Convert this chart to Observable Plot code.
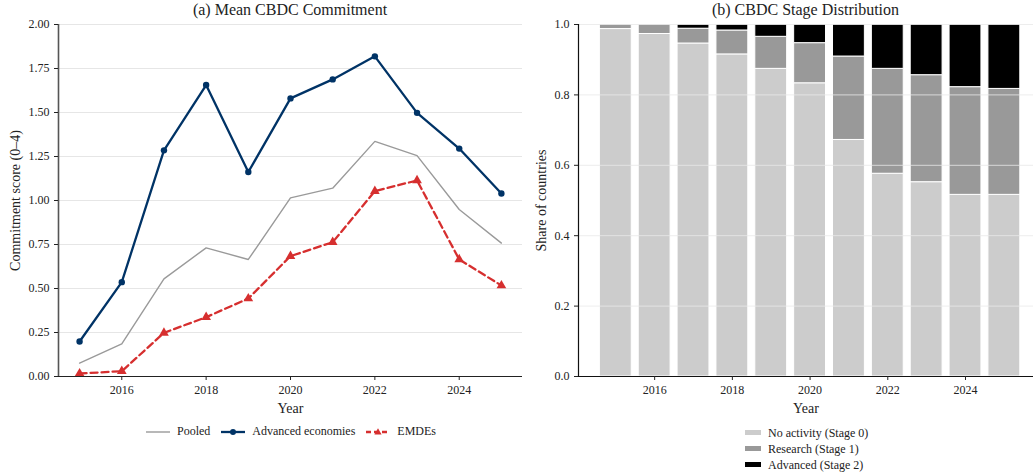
<!DOCTYPE html>
<html>
<head>
<meta charset="utf-8">
<script src="https://cdn.jsdelivr.net/npm/d3@7"></script>
<script src="https://cdn.jsdelivr.net/npm/@observablehq/plot@0.6"></script>
<style>
  html, body { margin: 0; padding: 0; background: #fff; }
  #root { position: relative; width: 1033px; height: 476px; overflow: hidden; font-family: "Liberation Serif", serif; color: #222; }
  .panel { position: absolute; top: 0; }
  .panel svg { max-width: none !important; }
  svg text { font-family: "Liberation Serif", serif; }
  g[aria-label="x-axis label"], g[aria-label="y-axis label"] { font-size: 14px; }
  g[aria-label="x-axis tick label"], g[aria-label="y-axis tick label"] { font-size: 12px; }
  .title { position: absolute; top: 1px; font-size: 16px; text-align: center; white-space: nowrap; }
  .legend { position: absolute; font-size: 12px; white-space: nowrap; }
  .legend .item { display: inline-flex; align-items: center; margin-right: 10px; }
  .legend svg { margin-right: 6px; }
  .vlegend .item { display: flex; align-items: center; height: 16px; }
</style>
</head>
<body>
<div id="root"></div>
<script>
// ---------- data ----------
const years = [2015, 2016, 2017, 2018, 2019, 2020, 2021, 2022, 2023, 2024, 2025];
const pooled   = [0.076, 0.186, 0.555, 0.731, 0.665, 1.015, 1.070, 1.336, 1.255, 0.949, 0.758];
const advanced = [0.199, 0.536, 1.285, 1.656, 1.162, 1.580, 1.688, 1.819, 1.498, 1.295, 1.040];
const emdes    = [0.017, 0.030, 0.248, 0.337, 0.443, 0.684, 0.763, 1.053, 1.114, 0.665, 0.517];

const stage0 = [0.987, 0.973, 0.946, 0.915, 0.874, 0.833, 0.672, 0.576, 0.552, 0.516, 0.516];
const stage1 = [0.013, 0.027, 0.042, 0.068, 0.091, 0.114, 0.237, 0.298, 0.304, 0.306, 0.301];
const stage2 = [0.000, 0.000, 0.012, 0.017, 0.035, 0.053, 0.091, 0.126, 0.144, 0.178, 0.183];

const seriesNames = ["Pooled", "Advanced economies", "EMDEs"];
const stageNames = ["No activity (Stage 0)", "Research (Stage 1)", "Advanced (Stage 2)"];
const yTicksA = [0, 0.25, 0.5, 0.75, 1.0, 1.25, 1.5, 1.75, 2.0];
const yTicksB = [0, 0.2, 0.4, 0.6, 0.8, 1.0];
const xTicks = [2016, 2018, 2020, 2022, 2024];

const NAVY = "#003366", RED = "#d62f2f", GREY = "#9a9a9a";
const stageColors = ["#cccccc", "#999999", "#000000"];

// ---------- tables ----------
const lineData = [];
years.forEach((y, i) => {
  lineData.push({year: y, value: pooled[i], series: seriesNames[0]});
  lineData.push({year: y, value: advanced[i], series: seriesNames[1]});
  lineData.push({year: y, value: emdes[i], series: seriesNames[2]});
});
const barData = [];
years.forEach((y, i) => {
  const vals = [stage0[i], stage1[i], stage2[i]];
  let cum = 0;
  vals.forEach((v, k) => {
    barData.push({year: y, stage: stageNames[k], y1: cum, y2: cum + v});
    cum += v;
  });
});

const root = document.getElementById("root");
const FONT = '"Liberation Serif", serif';

// ---------- panel (a) ----------
const panelA = document.createElement("div");
panelA.className = "panel"; panelA.style.left = "0px"; panelA.style.width = "528px";
const plotA = Plot.plot({
  width: 528, height: 418,
  marginLeft: 58, marginRight: 6, marginTop: 24, marginBottom: 42,
  style: {fontFamily: FONT, fontSize: "12px", color: "#222", background: "transparent"},
  x: {domain: [2014.5, 2025.5]},
  y: {domain: [0, 2]},
  marks: [
    Plot.gridY(yTicksA, {stroke: "#e6e6e6", strokeOpacity: 1, strokeWidth: 1}),
    Plot.line(lineData.filter(d => d.series === "Pooled"), {x: "year", y: "value", stroke: GREY, strokeWidth: 1.4}),
    Plot.line(lineData.filter(d => d.series === "Advanced economies"), {x: "year", y: "value", stroke: NAVY, strokeWidth: 2.3}),
    Plot.dot(lineData.filter(d => d.series === "Advanced economies"), {x: "year", y: "value", fill: NAVY, r: 3.2}),
    Plot.line(lineData.filter(d => d.series === "EMDEs"), {x: "year", y: "value", stroke: RED, strokeWidth: 2.3, strokeDasharray: "7,4"}),
    Plot.dot(lineData.filter(d => d.series === "EMDEs"), {x: "year", y: "value", fill: RED, symbol: "triangle", r: 3.6}),
    Plot.ruleX([2014.5], {stroke: "#555", strokeWidth: 1.6}),
    Plot.ruleY([0], {stroke: "#222", strokeWidth: 1.2}),
    Plot.axisX({ticks: xTicks, tickFormat: d => String(d), label: "Year", labelAnchor: "center", labelArrow: "none", labelOffset: 36, tickSize: 4}),
    Plot.axisY({ticks: yTicksA, tickFormat: d => d.toFixed(2), label: "Commitment score (0–4)", labelAnchor: "center", labelArrow: "none", labelOffset: 48, tickSize: 4})
  ]
});
panelA.appendChild(plotA);
root.appendChild(panelA);

const titleA = document.createElement("div");
titleA.className = "title";
titleA.textContent = "(a) Mean CBDC Commitment";
titleA.style.left = "58px"; titleA.style.width = "464px";
root.appendChild(titleA);

// legend (a)
const legA = document.createElement("div");
legA.className = "legend";
legA.style.left = "145px"; legA.style.top = "424px";
function swatchLine(color, width, dash, symbol) {
  let s = `<svg width="26" height="10"><line x1="1" y1="5" x2="25" y2="5" stroke="${color}" stroke-width="${width}" ${dash ? `stroke-dasharray="${dash}"` : ""}/>`;
  if (symbol === "dot") s += `<circle cx="13" cy="5" r="3" fill="${color}"/>`;
  if (symbol === "tri") s += `<path d="M13,1.2 L16.6,7.6 L9.4,7.6 Z" fill="${color}"/>`;
  return s + "</svg>";
}
legA.innerHTML =
  `<span class="item">${swatchLine(GREY, 1.4, null, null)}${seriesNames[0]}</span>` +
  `<span class="item">${swatchLine(NAVY, 2.3, null, "dot")}${seriesNames[1]}</span>` +
  `<span class="item">${swatchLine(RED, 2.3, "5,3", "tri")}${seriesNames[2]}</span>`;
root.appendChild(legA);

// ---------- panel (b) ----------
const panelB = document.createElement("div");
panelB.className = "panel"; panelB.style.left = "520px"; panelB.style.width = "513px";
const plotB = Plot.plot({
  width: 513, height: 418,
  marginLeft: 58, marginRight: 0, marginTop: 24, marginBottom: 42,
  style: {fontFamily: FONT, fontSize: "12px", color: "#222", background: "transparent"},
  x: {domain: [2014.04, 2025.75]},
  y: {domain: [0, 1]},
  marks: [
    Plot.rect(barData, {
      x1: d => d.year - 0.41, x2: d => d.year + 0.41, y1: "y1", y2: "y2",
      fill: d => stageColors[stageNames.indexOf(d.stage)], stroke: "#fff", strokeWidth: 1
    }),
    Plot.gridY(yTicksB, {stroke: "#e8e8e8", strokeOpacity: 0.8, strokeWidth: 1}),
    Plot.ruleX([2014.04], {stroke: "#111", strokeWidth: 1.2}),
    Plot.ruleY([0], {stroke: "#111", strokeWidth: 1.2}),
    Plot.axisX({ticks: xTicks, tickFormat: d => String(d), label: "Year", labelAnchor: "center", labelArrow: "none", labelOffset: 36, tickSize: 4}),
    Plot.axisY({ticks: yTicksB, tickFormat: d => d.toFixed(1), label: "Share of countries", labelAnchor: "center", labelArrow: "none", labelOffset: 42, tickSize: 4})
  ]
});
panelB.appendChild(plotB);
root.appendChild(panelB);

const titleB = document.createElement("div");
titleB.className = "title";
titleB.textContent = "(b) CBDC Stage Distribution";
titleB.style.left = "578px"; titleB.style.width = "455px";
root.appendChild(titleB);

// legend (b)
const legB = document.createElement("div");
legB.className = "legend vlegend";
legB.style.left = "744px"; legB.style.top = "425px";
legB.innerHTML = stageNames.map((n, k) =>
  `<div class="item"><svg width="18" height="8"><rect x="1" y="1" width="16" height="5" fill="${stageColors[k]}"/></svg>${n}</div>`
).join("");
root.appendChild(legB);
</script>
</body>
</html>
